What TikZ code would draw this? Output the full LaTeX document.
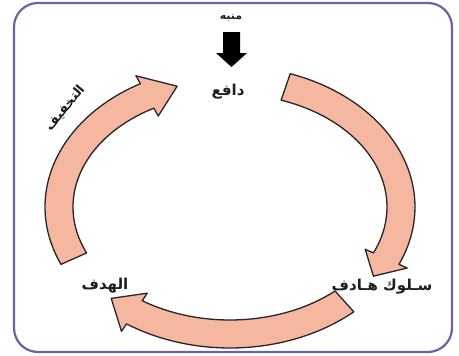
\documentclass[tikz,border=0pt]{standalone}
\usepackage{fontspec}
\newfontfamily\arabicfont[Script=Arabic]{DejaVu Sans}
\TeXXeTstate=1
\definecolor{framec}{RGB}{105,100,165}
\definecolor{arrfill}{RGB}{245,183,160}
\definecolor{txtc}{RGB}{30,30,30}
\def\cycCX{230}\def\cycCY{207}\def\cycRX{171}\def\cycRY{127}\def\cycW{14}\def\cycH{23}
\newcommand\cycarrow[3]{%
 \filldraw[cyc] plot[domain=#1:#2,samples=50] ({\cycCX+(\cycRX+\cycW)*cos(\x)},{\cycCY-(\cycRY+\cycW)*sin(\x)})
  -- ({\cycCX+(\cycRX+\cycH)*cos(#2)},{\cycCY-(\cycRY+\cycH)*sin(#2)})
  -- ({\cycCX+\cycRX*cos(#3)},{\cycCY-\cycRY*sin(#3)})
  -- ({\cycCX+(\cycRX-\cycH)*cos(#2)},{\cycCY-(\cycRY-\cycH)*sin(#2)})
  -- plot[domain=#2:#1,samples=50] ({\cycCX+(\cycRX-\cycW)*cos(\x)},{\cycCY-(\cycRY-\cycW)*sin(\x)})
  -- cycle;}
\begin{document}
\begin{tikzpicture}[x=1pt,y=-1pt,
  cyc/.style={fill=arrfill,draw=black!85,line width=1.3pt,line join=round},
  lbl/.style={font=\arabicfont\bfseries\fontsize{15}{17}\selectfont,text=txtc,inner sep=0pt}]
\useasboundingbox (0,0) rectangle (459,356);
\fill[white] (0,0) rectangle (459,356);
\draw[framec,line width=2.2pt,rounded corners=24] (14,3) rectangle (452,352);
\cycarrow{71}{-24}{-33}
\cycarrow{-48}{-124}{-134}
\cycarrow{204}{119}{108}
\node[lbl,font=\arabicfont\bfseries\fontsize{11}{13}\selectfont] (stim) at (231,18) {\beginR منبه\endR};
\node[lbl] (motive) at (228,92) {\beginR دافع\endR};
\node[lbl] (behav) at (382,287) {\beginR سـلوك هـادف\endR};
\node[lbl] (goal) at (105,286) {\beginR الهدف\endR};
\node[lbl,rotate=50,font=\arabicfont\bfseries\fontsize{13}{15}\selectfont] (relief) at (65,108) {\beginR التخفيف\endR};
\fill[black] (223,32) -- (240,32) -- (240,53) -- (247,53) -- (231.5,67) -- (216,53) -- (223,53) -- cycle;
\end{tikzpicture}
\end{document}
